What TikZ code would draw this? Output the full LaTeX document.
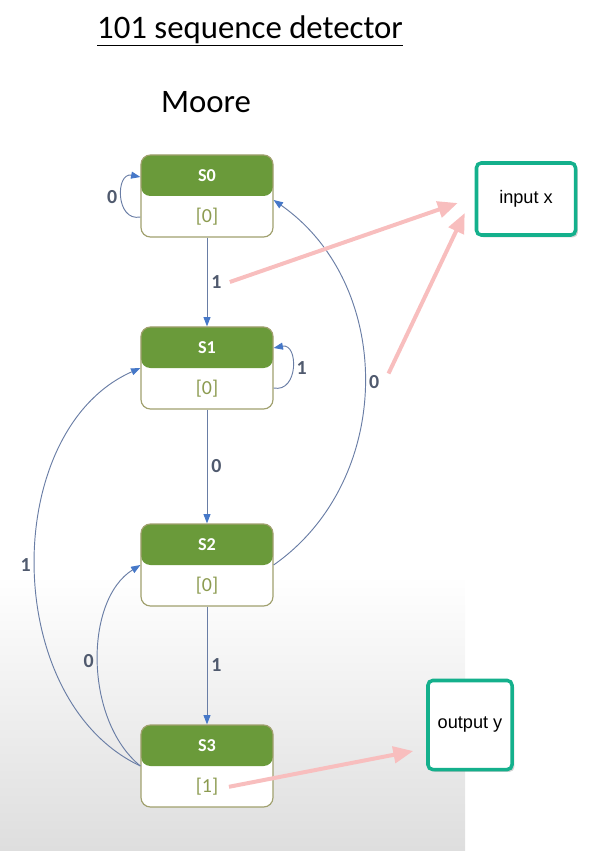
\documentclass[tikz,border=0pt]{standalone}
\usepackage{fontspec}
\setmainfont{Carlito}
\newfontfamily\boxfont{Liberation Sans}
\usetikzlibrary{calc,arrows.meta,shadows}

\definecolor{stategreen}{RGB}{106,154,58}
\definecolor{stateborder}{RGB}{160,160,110}
\definecolor{outgreen}{RGB}{140,155,80}
\definecolor{edgeblue}{RGB}{105,125,165}
\definecolor{tipblue}{RGB}{70,120,200}
\definecolor{labelgray}{RGB}{80,90,110}
\definecolor{hintpink}{RGB}{248,190,190}
\definecolor{boxteal}{RGB}{20,176,140}

\tikzset{
  state/.style={draw=stateborder, line width=1pt, rounded corners=8pt,
    minimum width=3.96cm, minimum height=2.46cm, fill=white,
    path picture={\fill[stategreen] (path picture bounding box.north west) rectangle (path picture bounding box.east);}},
  statename/.style={text=white, font=\bfseries\fontsize{15.5}{18}\selectfont},
  stateout/.style={text=outgreen, font=\fontsize{17}{19}\selectfont},
  edge/.style={draw=edgeblue, line width=0.8pt, -{Triangle[length=8pt,width=6pt,color=tipblue]}},
  elabel/.style={text=labelgray, font=\bfseries\fontsize{17}{19}\selectfont},
  hint/.style={draw=hintpink, line width=3.4pt, -{Triangle[length=17pt,width=14pt]}},
  iobox/.style={draw=boxteal, line width=3pt, rounded corners=4pt, fill=white,
    drop shadow={opacity=0.35, shadow xshift=2pt, shadow yshift=-2pt},
    font=\boxfont\fontsize{15.5}{18}\selectfont}
}

\begin{document}
\begin{tikzpicture}[x=0.03cm, y=-0.03cm]
    \useasboundingbox (0,0) rectangle (591,851);
    \shade[top color=white, bottom color=black!13] (0,575) rectangle (465,851);

    \node[font=\fontsize{28}{32}\selectfont] (title) at (250,31) {\underline{101 sequence detector}};
    \node[font=\fontsize{28}{32}\selectfont] (moore) at (206,102) {Moore};

    \foreach \i/\y/\val in {0/196/0, 1/368/0, 2/565/0, 3/766/1} {
        \node[state] (S\i) at (207,\y) {};
        \node[statename] (S\i-name) at ($(S\i.north)!0.5!(S\i.center)$) {S\i};
        \node[stateout] (S\i-out) at ($(S\i.south)!0.5!(S\i.center)$) {[\val]};
    }

    % transitions
    \draw[edge] ([yshift=-0.63cm]S0.west) .. controls +(-25,5) and +(-25,-5) .. ([yshift=0.57cm]S0.west) node[elabel, midway, left] (l00) {0};
    \draw[edge] ([yshift=-0.6cm]S1.east) .. controls +(25,5) and +(25,-5) .. ([yshift=0.6cm]S1.east) node[elabel, midway, right] (l11) {1};
    \draw[edge] (S0) -- (S1) node[elabel, midway, right] (l01) {1};
    \draw[edge] (S1) -- (S2) node[elabel, midway, right] (l12) {0};
    \draw[edge] (S2) -- (S3) node[elabel, midway, right] (l23) {1};
    \draw[edge] (S2.east) .. controls (395,480) and (395,285) .. ([yshift=-0.12cm]S0.east) node[elabel, midway, right] (l20) {0};
    \draw[edge] (S3.west) .. controls (0,700) and (0,430) .. (S1.west) node[elabel, midway, left] (l31) {1};
    \draw[edge] (S3.west) .. controls (84,720) and (84,600) .. (S2.west) node[elabel, midway, left] (l32) {0};

    \node[iobox, minimum width=2.97cm, minimum height=2.16cm] (inx) at (526,199) {input x};
    \node[iobox, minimum width=2.52cm, minimum height=2.67cm] (outy) at (470,725) {output y};

    % pointers
    \draw[hint] ([shift={(4,0)}]l01.east) -- ([shift={(-17,4)}]inx.west);
    \draw[hint] ([shift={(5,2)}]l20.north east) -- ([shift={(-10,14)}]inx.west);
    \draw[hint] ([xshift=0.2cm]S3-out.east) -- ([shift={(-13,26)}]outy.west);
\end{tikzpicture}
\end{document}
